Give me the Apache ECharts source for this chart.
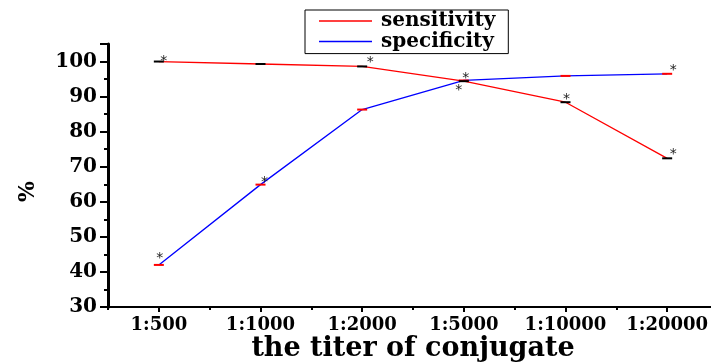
<!DOCTYPE html>
<html>
<head>
<meta charset="utf-8">
<script src="https://cdn.jsdelivr.net/npm/echarts@6/dist/echarts.min.js"></script>
<style>
html,body{margin:0;padding:0;background:#fff;}
#chart{width:711px;height:363px;}
</style>
</head>
<body>
<div id="chart"></div>
<script>
// ---- data ----
const categories = ['1:500', '1:1000', '1:2000', '1:5000', '1:10000', '1:20000'];
const sensitivity = [100, 99.3, 98.6, 94.4, 88.4, 72.4];
const specificity = [42, 64.9, 86.3, 94.6, 95.9, 96.5];
// asterisk (significance) marks per point: 1 = shown
const sensStar = [1, 0, 1, 1, 1, 1];
const specStar = [1, 1, 0, 1, 0, 1];
const yTicks = { min: 30, max: 105, step: 10 };
const seriesNames = ['sensitivity', 'specificity'];
const xTitle = 'the titer of conjugate';
const yTitle = '%';

// ---- style (positions of the asterisks relative to their point) ----
const sensStarOffset = [[5, 0], null, [8, -4], [2, -3], [1, -3], [6, -4]];
const specStarOffset = [[1, -7], [4, -2], null, [-5, 10], null, [6, -3]];

const FONT = 'DejaVu Serif';
const chart = echarts.init(document.getElementById('chart'), null, { renderer: 'canvas' });

function build(values, stars, offsets) {
  return values.map((v, i) => {
    const item = { value: v };
    if (stars[i]) {
      item.label = { show: true, offset: offsets[i] };
    }
    return item;
  });
}

const starLabel = {
  show: false,
  formatter: '*',
  position: 'inside',
  align: 'center',
  verticalAlign: 'middle',
  fontFamily: 'DejaVu Sans',
  fontSize: 14,
  color: '#222'
};

const option = {
  animation: false,
  backgroundColor: '#fff',
  grid: { left: 108, top: 44, width: 610, height: 263, containLabel: false, outerBoundsMode: 'none' },
  legend: {
    left: 305,
    top: 10,
    orient: 'vertical',
    borderColor: '#000',
    borderWidth: 1,
    padding: [1, 13, 2, 14],
    itemGap: 0.6,
    itemWidth: 53,
    itemHeight: 1.5,
    icon: 'rect',
    selectedMode: false,
    textStyle: { fontFamily: FONT, fontWeight: 'bold', fontSize: 20, lineHeight: 20, color: '#000', padding: [0, 0, 0, 4] },
    data: [
      { name: seriesNames[0], itemStyle: { color: '#ff0000' } },
      { name: seriesNames[1], itemStyle: { color: '#0000ff' } }
    ]
  },
  xAxis: [
    {
      type: 'category',
      data: categories,
      position: 'bottom',
      boundaryGap: true,
      axisLine: { show: true, lineStyle: { color: '#000', width: 2 } },
      axisTick: { show: true, alignWithLabel: true, interval: 0, length: 5, lineStyle: { color: '#000', width: 2 } },
      axisLabel: { interval: 0, hideOverlap: false, fontFamily: FONT, fontWeight: 'bold', fontSize: 18, color: '#000', margin: 9 },
      splitLine: { show: false },
      name: xTitle,
      nameLocation: 'middle',
      nameGap: 28,
      nameMoveOverlap: false,
      nameTextStyle: { fontFamily: FONT, fontWeight: 'bold', fontSize: 27, color: '#000' }
    },
    {
      type: 'category',
      data: categories,
      position: 'bottom',
      boundaryGap: true,
      axisLine: { show: false },
      axisTick: { show: true, interval: 0, length: 3, lineStyle: { color: '#000', width: 2 } },
      axisLabel: { show: false },
      splitLine: { show: false }
    }
  ],
  yAxis: {
    type: 'value',
    min: yTicks.min,
    max: yTicks.max,
    interval: yTicks.step,
    axisLine: { show: true, lineStyle: { color: '#000', width: 3 } },
    axisTick: { show: true, length: 8, lineStyle: { color: '#000', width: 2 } },
    minorTick: { show: true, splitNumber: 2, length: 4, lineStyle: { color: '#000', width: 2 } },
    splitLine: { show: false },
    axisLabel: { fontFamily: FONT, fontWeight: 'bold', fontSize: 20, color: '#000', margin: 11, showMaxLabel: false },
    name: yTitle,
    nameLocation: 'middle',
    nameGap: 69,
    nameMoveOverlap: false,
    nameTextStyle: { fontFamily: FONT, fontWeight: 'bold', fontSize: 22, color: '#000', padding: [0, 32, 0, 0] }
  },
  series: [
    {
      name: seriesNames[1],
      type: 'line',
      data: build(specificity, specStar, specStarOffset),
      symbol: 'rect',
      symbolSize: [10, 2],
      showAllSymbol: true,
      itemStyle: { color: '#ff0000' },
      lineStyle: { color: '#0000ff', width: 1.3 },
      label: starLabel,
      emphasis: { disabled: true },
      z: 2
    },
    {
      name: seriesNames[0],
      type: 'line',
      data: build(sensitivity, sensStar, sensStarOffset),
      symbol: 'rect',
      symbolSize: [10, 2],
      showAllSymbol: true,
      itemStyle: { color: '#000000' },
      lineStyle: { color: '#ff0000', width: 1.3 },
      label: starLabel,
      emphasis: { disabled: true },
      z: 3
    }
  ]
};
chart.setOption(option);
</script>
</body>
</html>
